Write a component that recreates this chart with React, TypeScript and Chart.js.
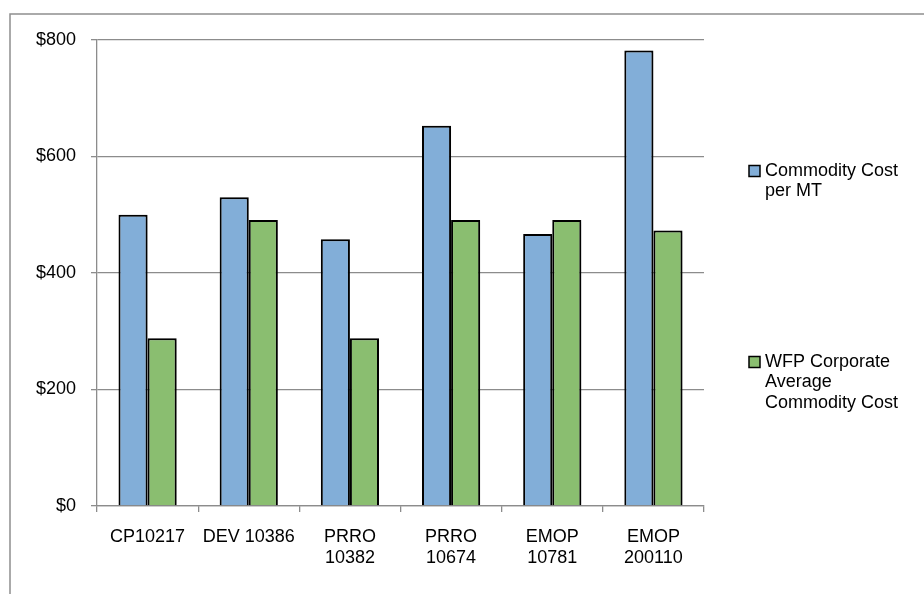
import React, { useEffect, useRef } from "react";
import { Chart, registerables } from "chart.js";

Chart.register(...registerables);

// Project categories (multi-line tick labels)
const projects: string[][] = [
  ["CP10217"],
  ["DEV 10386"],
  ["PRRO", "10382"],
  ["PRRO", "10674"],
  ["EMOP", "10781"],
  ["EMOP", "200110"],
];

// US$ per metric tonne
const commodityCostPerMT = [500, 530, 458, 653, 467, 782];
const corporateAverageCost = [288, 491, 288, 491, 491, 473];

const seriesNames = ["Commodity Cost per MT", "WFP Corporate Average Commodity Cost"];
const legendLines: string[][] = [
  ["Commodity Cost", "per MT"],
  ["WFP Corporate", "Average", "Commodity Cost"],
];

const yTicks = [0, 200, 400, 600, 800];

const FONT = "'Liberation Sans', Arial, sans-serif";
const BLUE = "#82aed8";
const GREEN = "#8abe70";
const GRID = "#8c8c8c";

// Frame around the whole chart object
const framePlugin = {
  id: "frame",
  beforeDraw(chart: Chart) {
    const ctx = chart.ctx;
    ctx.save();
    ctx.fillStyle = "#ffffff";
    ctx.fillRect(0, 0, chart.width, chart.height);
    ctx.strokeStyle = "#8f8f8f";
    ctx.lineWidth = 1.5;
    ctx.strokeRect(10, 14, chart.width + 50, chart.height + 50);
    ctx.restore();
  },
};

// Soft drop shadow under the bars
const shadowPlugin = {
  id: "barShadow",
  beforeDatasetsDraw(chart: Chart) {
    const ctx = chart.ctx;
    ctx.save();
    ctx.shadowColor = "rgba(0,0,0,0.22)";
    ctx.shadowBlur = 4;
    ctx.shadowOffsetX = 2;
    ctx.shadowOffsetY = 1;
  },
  afterDatasetsDraw(chart: Chart) {
    chart.ctx.restore();
  },
};

// Right-hand legend with wrapped entries
const sideLegendPlugin = {
  id: "sideLegend",
  afterDraw(chart: Chart) {
    const ctx = chart.ctx;
    const boxX = 749;
    const textX = 765;
    const lineH = 20.5;
    const firstLineY = [171, 362];
    ctx.save();
    ctx.font = `18px ${FONT}`;
    ctx.textBaseline = "middle";
    ctx.textAlign = "left";
    chart.data.datasets.forEach((ds, i) => {
      const y = firstLineY[i];
      ctx.fillStyle = ds.backgroundColor as string;
      ctx.fillRect(boxX, y - 5.5, 11, 11);
      ctx.strokeStyle = "#000";
      ctx.lineWidth = 1.5;
      ctx.strokeRect(boxX, y - 5.5, 11, 11);
      ctx.fillStyle = "#000";
      legendLines[i].forEach((line, j) => {
        ctx.fillText(line, textX, y + j * lineH);
      });
    });
    ctx.restore();
  },
};

export default function App() {
  const canvasRef = useRef<HTMLCanvasElement | null>(null);

  useEffect(() => {
    if (!canvasRef.current) return;
    const chart = new Chart(canvasRef.current, {
      type: "bar",
      data: {
        labels: projects,
        datasets: [
          {
            label: seriesNames[0],
            data: commodityCostPerMT,
            backgroundColor: BLUE,
            borderColor: "#000",
            borderWidth: 2,
          },
          {
            label: seriesNames[1],
            data: corporateAverageCost,
            backgroundColor: GREEN,
            borderColor: "#000",
            borderWidth: 2,
          },
        ],
      },
      options: {
        animation: false,
        responsive: false,
        maintainAspectRatio: false,
        layout: { padding: { left: 0, top: 40, right: 220, bottom: 0 } },
        datasets: {
          bar: { categoryPercentage: 0.575, barPercentage: 1 },
        },
        plugins: {
          legend: { display: false },
          tooltip: { enabled: false },
        },
        scales: {
          x: {
            grid: {
              display: true,
              drawOnChartArea: false,
              drawTicks: true,
              tickLength: 6,
              color: GRID,
              lineWidth: 1.3,
            },
            border: { display: true, color: GRID, width: 1.3 },
            ticks: {
              color: "#000",
              font: { family: FONT, size: 18, lineHeight: 1.2 },
              padding: 14,
              maxRotation: 0,
              autoSkip: false,
            },
            afterFit(scale: any) {
              scale.height = 88;
            },
          },
          y: {
            min: 0,
            max: 800,
            afterBuildTicks(scale: any) {
              scale.ticks = yTicks.map((v) => ({ value: v }));
            },
            grid: {
              color: GRID,
              lineWidth: 1.3,
              tickLength: 6,
              drawTicks: true,
            },
            border: { display: true, color: GRID, width: 1.3 },
            ticks: {
              color: "#000",
              font: { family: FONT, size: 18 },
              padding: 15,
              callback: (v: any) => "$" + v,
            },
            afterFit(scale: any) {
              scale.width = 97;
            },
          },
        },
      },
      plugins: [framePlugin, shadowPlugin, sideLegendPlugin],
    });
    return () => chart.destroy();
  }, []);

  return (
    <div style={{ position: "fixed", left: 0, top: 0, width: 924, height: 594, background: "#fff" }}>
      <canvas ref={canvasRef} width={924} height={594} style={{ display: "block" }} />
    </div>
  );
}
